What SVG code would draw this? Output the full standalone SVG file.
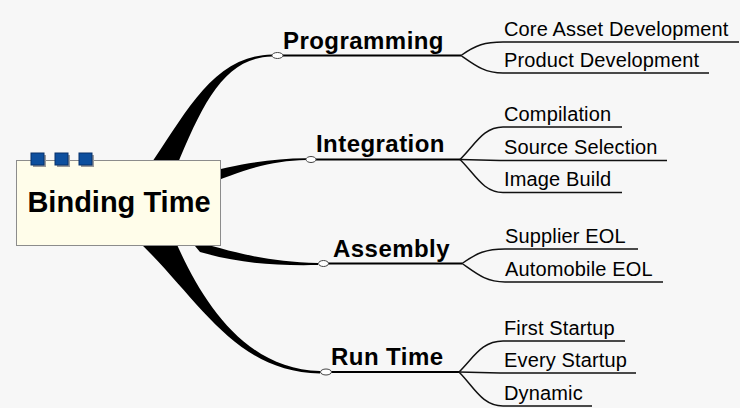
<svg xmlns="http://www.w3.org/2000/svg" width="740" height="408" viewBox="0 0 740 408">
  <style>
    .branch { fill: #000; stroke: none; }
    .main-line { fill: none; stroke: #000; stroke-width: 2; }
    .sub-line { fill: none; stroke: #111; stroke-width: 1.5; }
    .knob { fill: #fff; stroke: #444; stroke-width: 1; }
    .topic { font-family: "Liberation Sans", Arial, sans-serif; font-weight: bold; font-size: 24px; letter-spacing: 0.45px; fill: #000; }
    .subtopic { font-family: "Liberation Sans", Arial, sans-serif; font-size: 20px; letter-spacing: 0.15px; fill: #000; }
    .root-text { font-family: "Liberation Sans", Arial, sans-serif; font-weight: bold; font-size: 29px; fill: #000; }
    .tab { fill: #0d4f9e; stroke: #06306a; stroke-width: 1; }
    .tab-shadow { fill: #9a9a9a; }
  </style>

  <rect x="0" y="0" width="740" height="408" fill="#f7f7f7"/>

  <!-- tapered connectors from the root box to each topic -->
  <g id="connectors">
    <path class="branch" d="M 148,168 C 186,114 212,56 272,54.5 L 272,56.6 C 225,57.5 203,102 176,168 Z"/>
    <path class="branch" d="M 195,175 C 240,164 270,158.5 306,158.3 L 306,160 C 272,161 245,168 200,188 Z"/>
    <path class="branch" d="M 190,240 C 228,250 262,262 318,263 L 318,265 C 268,266 235,262 200,252 Z"/>
    <path class="branch" d="M 137,240 C 200,300 234,372 320,373.5 L 320,371 C 244,370 200,298 175,240 Z"/>

    <!-- topic underlines -->
    <line class="main-line" x1="277" y1="55.5" x2="461" y2="55.5"/>
    <line class="main-line" x1="311" y1="159.5" x2="460" y2="159.5"/>
    <line class="main-line" x1="323" y1="263.5" x2="462" y2="263.5"/>
    <line class="main-line" x1="326" y1="372" x2="459" y2="372"/>

    <!-- Programming children -->
    <path class="sub-line" d="M 461,55.5 C 476,45 485,42 503,42 L 739,42"/>
    <path class="sub-line" d="M 461,55.5 C 476,66 485,73 503,73 L 709,73"/>
    <!-- Integration children -->
    <path class="sub-line" d="M 460,159.5 C 475,145 483,127 503,127 L 622,127"/>
    <path class="sub-line" d="M 460,159.5 L 500,160.5 L 667,160.5"/>
    <path class="sub-line" d="M 460,159.5 C 475,174 483,192.5 503,192.5 L 622,192.5"/>
    <!-- Assembly children -->
    <path class="sub-line" d="M 462,263.5 C 477,253 486,249 505,249 L 638,249"/>
    <path class="sub-line" d="M 462,263.5 C 477,274 486,282 505,282 L 663,282"/>
    <!-- Run Time children -->
    <path class="sub-line" d="M 459,372 C 474,357 482,341 503,341 L 625,341"/>
    <path class="sub-line" d="M 459,372 L 500,373 L 636,373"/>
    <path class="sub-line" d="M 459,372 C 474,387 482,406 503,406 L 592,406"/>

    <!-- junction knobs -->
    <ellipse class="knob" cx="277.5" cy="55.5" rx="5.5" ry="3"/>
    <ellipse class="knob" cx="311" cy="159.5" rx="5" ry="3"/>
    <ellipse class="knob" cx="323.5" cy="263.5" rx="5" ry="3"/>
    <ellipse class="knob" cx="326" cy="372" rx="5.5" ry="3"/>
  </g>

  <!-- root topic -->
  <g id="root">
    <rect x="16.5" y="160.5" width="204" height="85" fill="#fffdea" stroke="#8c8c8c" stroke-width="1"/>
    <rect class="tab-shadow" x="33" y="155" width="13" height="12"/>
    <rect class="tab-shadow" x="57" y="155" width="13" height="12"/>
    <rect class="tab-shadow" x="81" y="155" width="13" height="12"/>
    <rect class="tab" x="31" y="153" width="13" height="12"/>
    <rect class="tab" x="55" y="153" width="13" height="12"/>
    <rect class="tab" x="79" y="153" width="13" height="12"/>
    <text class="root-text" x="119" y="212" text-anchor="middle">Binding Time</text>
  </g>

  <g id="programming">
    <text class="topic" x="283" y="49">Programming</text>
  </g>
  <g id="integration">
    <text class="topic" x="316" y="152">Integration</text>
  </g>
  <g id="assembly">
    <text class="topic" x="333" y="257">Assembly</text>
  </g>
  <g id="run-time">
    <text class="topic" x="331" y="365">Run Time</text>
  </g>

  <g id="core-asset-development"><text class="subtopic" x="504" y="36">Core Asset Development</text></g>
  <g id="product-development"><text class="subtopic" x="504" y="67">Product Development</text></g>
  <g id="compilation"><text class="subtopic" x="504" y="121">Compilation</text></g>
  <g id="source-selection"><text class="subtopic" x="504" y="154">Source Selection</text></g>
  <g id="image-build"><text class="subtopic" x="504" y="186">Image Build</text></g>
  <g id="supplier-eol"><text class="subtopic" x="505" y="243">Supplier EOL</text></g>
  <g id="automobile-eol"><text class="subtopic" x="505" y="276">Automobile EOL</text></g>
  <g id="first-startup"><text class="subtopic" x="504" y="335">First Startup</text></g>
  <g id="every-startup"><text class="subtopic" x="504" y="367">Every Startup</text></g>
  <g id="dynamic"><text class="subtopic" x="504" y="400">Dynamic</text></g>
</svg>
